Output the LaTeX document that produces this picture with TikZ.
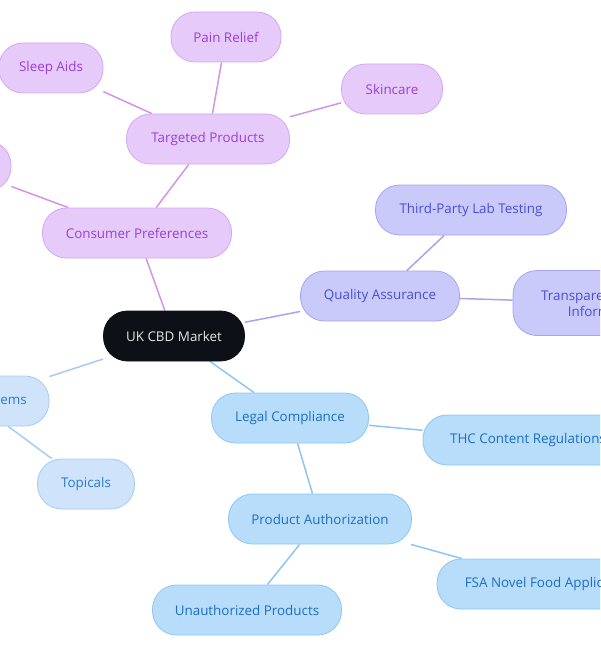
\documentclass[tikz,border=0pt]{standalone}
\usepackage{fontspec}
\setmainfont{Open Sans}
\usetikzlibrary{backgrounds}
\definecolor{pfill}{HTML}{E6CBFA}
\definecolor{pdraw}{HTML}{D3A6F4}
\definecolor{ptext}{HTML}{9A3ED8}
\definecolor{ifill}{HTML}{C9CAFA}
\definecolor{idraw}{HTML}{A3A5F2}
\definecolor{itext}{HTML}{4A4ED0}
\definecolor{bfill}{HTML}{B7DDFB}
\definecolor{bdraw}{HTML}{8EC5F2}
\definecolor{btext}{HTML}{1C6EC0}
\definecolor{lfill}{HTML}{CFE3FA}
\definecolor{ldraw}{HTML}{A6CBF2}
\definecolor{ltext}{HTML}{2E7AD0}
\definecolor{dark}{HTML}{0D1117}
\tikzset{
  pill/.style={rounded corners=24pt, minimum height=50pt, inner sep=0pt, align=center, line width=0.8pt, font=\fontsize{13.4}{16}\selectfont},
  purp/.style={pill, fill=pfill, draw=pdraw, text=ptext},
  indi/.style={pill, fill=ifill, draw=idraw, text=itext},
  blu/.style={pill, fill=bfill, draw=bdraw, text=btext},
  lblu/.style={pill, fill=lfill, draw=ldraw, text=ltext},
  root/.style={pill, fill=dark, draw=dark, text=white!90!black},
  pe/.style={draw=pdraw!90!purple, line width=1.5pt},
  ie/.style={draw=idraw, line width=1.5pt},
  be/.style={draw=bdraw, line width=1.5pt},
  le/.style={draw=ldraw, line width=1.5pt},
}
\begin{document}
\begin{tikzpicture}[x=1pt,y=-1pt]
\useasboundingbox (0,0) rectangle (600,650);
\begin{scope}
\clip (0,0) rectangle (600,650);
\node[root, minimum width=141pt] (uk) at (174,336) {UK CBD Market};
\node[purp, minimum width=189pt] (cp) at (137,233) {Consumer Preferences};
\node[purp, minimum width=163pt] (tp) at (208,139) {Targeted Products};
\node[purp, minimum width=110pt] (pr) at (226,37) {Pain Relief};
\node[purp, minimum width=104pt] (sa) at (51,68) {Sleep Aids};
\node[purp, minimum width=101pt] (sk) at (392,89) {Skincare};
\node[purp, minimum width=110pt] (cx) at (-44,166) {};
\node[indi, minimum width=159pt] (qa) at (380,296) {Quality Assurance};
\node[indi, minimum width=191pt] (tl) at (471,210) {Third-Party Lab Testing};
\node[indi, minimum width=184pt, minimum height=65pt] (ti) at (605,303) {Transparent Product\\Information};
\node[blu, minimum width=157pt] (lc) at (290,418) {Legal Compliance};
\node[blu, minimum width=210pt] (thc) at (528,440) {THC Content Regulations};
\node[blu, minimum width=232pt] (fsa) at (553,584) {FSA Novel Food Applications};
\node[blu, minimum width=183pt] (pa) at (320,519) {Product Authorization};
\node[blu, minimum width=189pt] (up) at (247,610) {Unauthorized Products};
\node[lblu, minimum width=150pt] (ds) at (-26,401) {Delivery Systems};
\node[lblu, minimum width=97pt] (top) at (86,484) {Topicals};
\begin{scope}[on background layer]
\draw[pe] (uk) -- (cp);
\draw[pe] (cp) -- (tp);
\draw[pe] (tp) -- (pr);
\draw[pe] (tp) -- (sa);
\draw[pe] (tp) -- (sk);
\draw[pe] (cp) -- (cx);
\draw[ie] (uk) -- (qa);
\draw[ie] (qa) -- (tl);
\draw[ie] (qa) -- (ti);
\draw[be] (uk) -- (lc);
\draw[be] (lc) -- (thc);
\draw[be] (lc) -- (pa);
\draw[be] (pa) -- (fsa);
\draw[be] (pa) -- (up);
\draw[le] (uk) -- (ds);
\draw[le] (ds) -- (top);
\end{scope}
\end{scope}
\end{tikzpicture}
\end{document}
